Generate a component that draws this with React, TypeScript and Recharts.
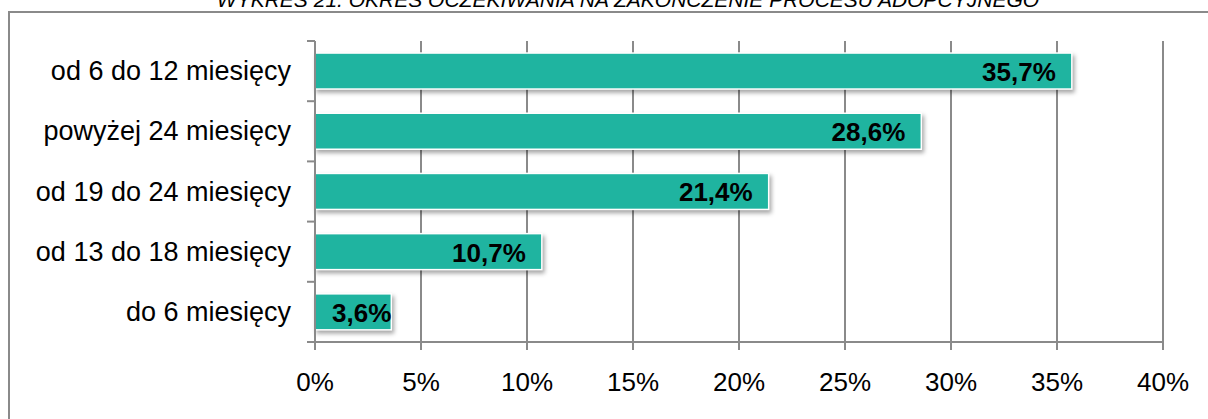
import { BarChart, Bar, XAxis, YAxis, CartesianGrid, LabelList } from 'recharts';

const categories = [
  'od 6 do 12 miesięcy',
  'powyżej 24 miesięcy',
  'od 19 do 24 miesięcy',
  'od 13 do 18 miesięcy',
  'do 6 miesięcy',
];
const shares = [35.7, 28.6, 21.4, 10.7, 3.6];
const xTicks = [0, 5, 10, 15, 20, 25, 30, 35, 40];

const data = categories.map((name, i) => ({ name, value: shares[i] }));

const FONT = '"Liberation Sans", Arial, sans-serif';
const GRID = '#8a8a8a';
const TEAL = '#1fb4a0';

const W = 1208;
const H = 419;
const TOP = 41;
const X_AXIS_H = 77;
const BAND = (H - TOP - X_AXIS_H) / categories.length;
const LABEL_SIZE = 26;

const pct = (v: number) => v.toFixed(1).replace('.', ',') + '%';

// rough bold Arial width, used to keep short labels from spilling left of the axis
const labelWidth = (s: string) =>
  s.split('').reduce((w, ch) => w + (ch === ',' ? 0.278 : ch === '%' ? 0.889 : 0.556), 0) * LABEL_SIZE;

// category label + tick marks on band boundaries (Excel style)
const CategoryTick = ({ x, y, payload, index }: any) => (
  <g>
    <line x1={x} x2={x + 8} y1={y - BAND / 2} y2={y - BAND / 2} stroke={GRID} strokeWidth={2} />
    {index === categories.length - 1 && (
      <line x1={x} x2={x + 8} y1={y + BAND / 2} y2={y + BAND / 2} stroke={GRID} strokeWidth={2} />
    )}
    <text x={x - 16} y={y} dy={9} textAnchor="end" fill="#000" fontSize={27} fontFamily={FONT}>
      {payload.value}
    </text>
  </g>
);

const BarShape = ({ x, y, width, height }: any) => (
  <rect
    x={x}
    y={y}
    width={width}
    height={height}
    fill={TEAL}
    stroke="#fff"
    strokeWidth={1.5}
    style={{ filter: 'drop-shadow(2px 3px 2px rgba(0,0,0,0.35))' }}
  />
);

const ValueLabel = ({ x, y, width, height, value }: any) => {
  const txt = pct(value);
  const end = Math.max(x + width - 16, x + 17 + labelWidth(txt));
  return (
    <text
      x={end}
      y={y + height / 2}
      dy={10}
      textAnchor="end"
      fill="#000"
      fontSize={LABEL_SIZE}
      fontWeight="bold"
      fontFamily={FONT}
    >
      {txt}
    </text>
  );
};

export default function App() {
  return (
    <div style={{ position: 'absolute', left: 0, top: 0, width: W, height: H, overflow: 'hidden', background: '#fff' }}>
      <div
        style={{
          position: 'absolute', left: 8, top: 11, width: W + 20, height: H + 20,
          borderLeft: `2px solid ${GRID}`, borderTop: `2px solid ${GRID}`,
        }}
      />
      <svg style={{ position: 'absolute', left: 0, top: 0 }} width={W} height={20}>
        <text x={628} y={7} textAnchor="middle" fontSize={21} fontStyle="italic" fontFamily={FONT} fill="#000">
          WYKRES 21. OKRES OCZEKIWANIA NA ZAKOŃCZENIE PROCESU ADOPCYJNEGO
        </text>
      </svg>
      <div style={{ position: 'absolute', left: 0, top: 0 }}>
        <BarChart
          width={W}
          height={H}
          data={data}
          layout="vertical"
          margin={{ top: TOP, right: 45, bottom: 0, left: 0 }}
          barCategoryGap="20%"
        >
          <CartesianGrid horizontal={false} stroke={GRID} strokeWidth={2} />
          <XAxis
            type="number"
            domain={[0, 40]}
            ticks={xTicks}
            interval={0}
            height={X_AXIS_H}
            tickFormatter={(v: number) => `${v}%`}
            stroke={GRID}
            strokeWidth={2}
            tickSize={8}
            tickMargin={23}
            tick={{ fill: '#000', fontSize: 26, fontFamily: FONT }}
          />
          <YAxis
            type="category"
            dataKey="name"
            width={315}
            stroke={GRID}
            strokeWidth={2}
            tickLine={false}
            tick={<CategoryTick />}
            interval={0}
          />
          <Bar dataKey="value" shape={<BarShape />} isAnimationActive={false}>
            <LabelList dataKey="value" content={<ValueLabel />} />
          </Bar>
        </BarChart>
      </div>
    </div>
  );
}
